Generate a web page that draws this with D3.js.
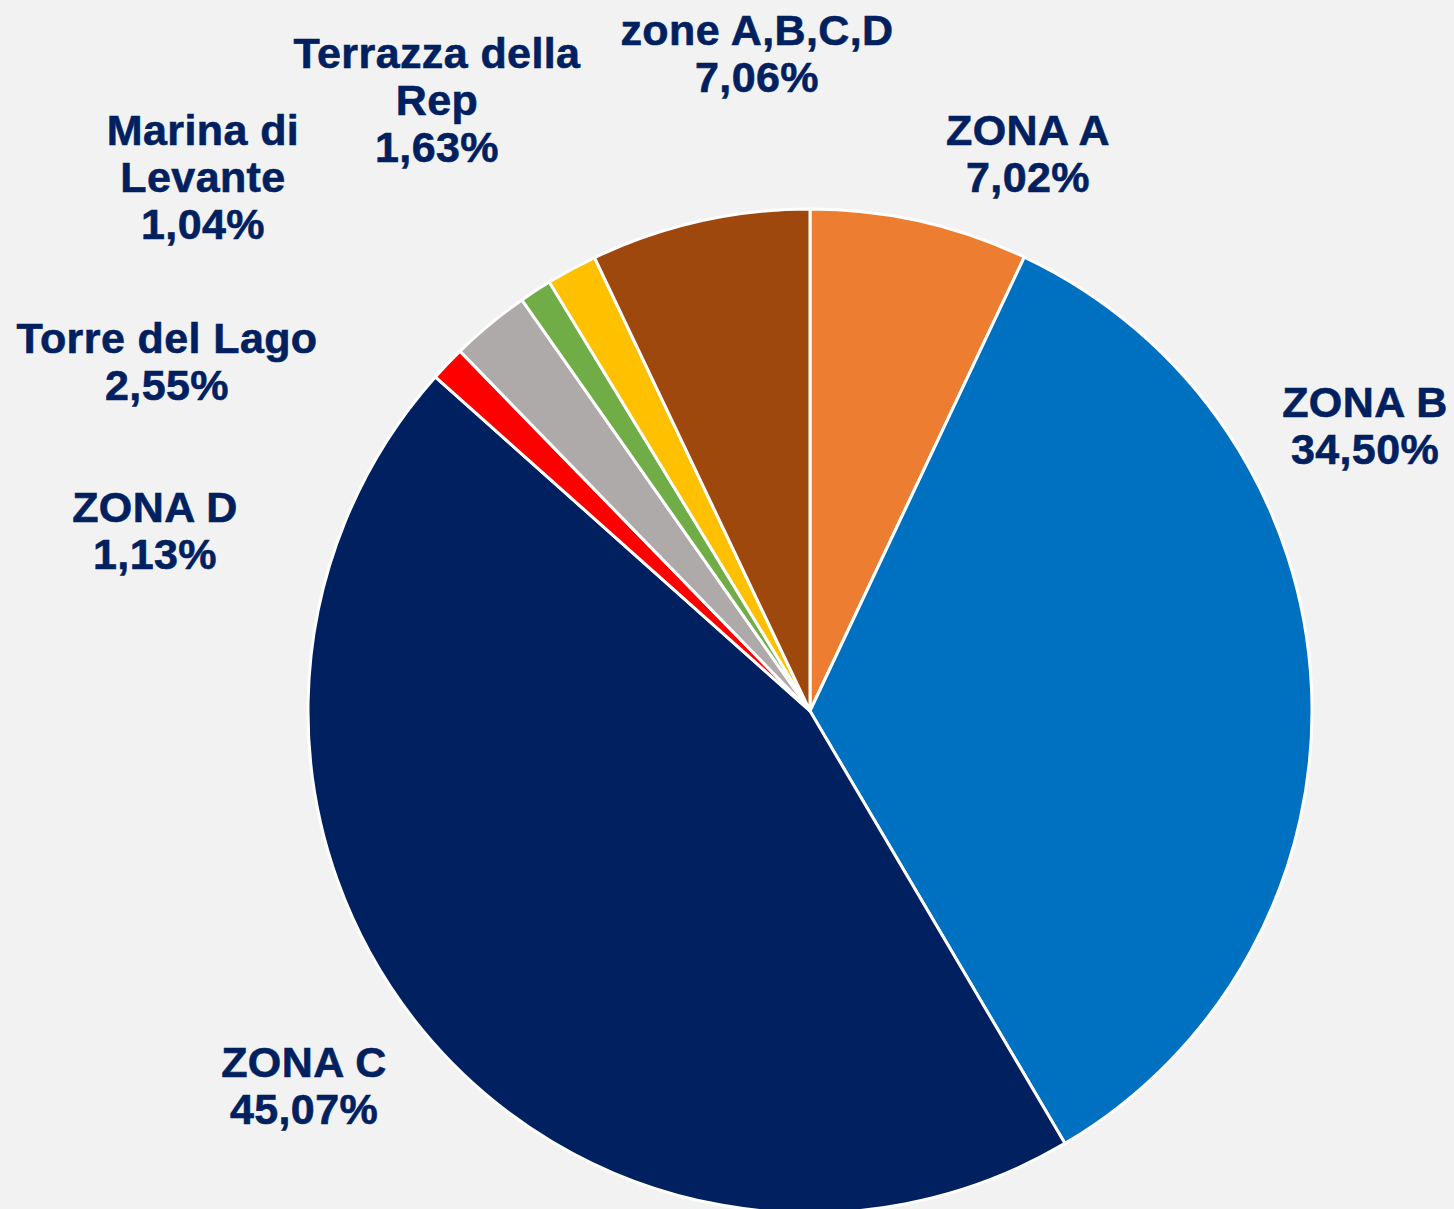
<!DOCTYPE html>
<html>
<head>
<meta charset="utf-8">
<script src="https://cdn.jsdelivr.net/npm/d3@7"></script>
<style>
  body { margin: 0; background: #f2f2f2; }
  svg { display: block; }
</style>
</head>
<body>
<svg id="chart"></svg>
<script>
const categories = ["ZONA A", "ZONA B", "ZONA C", "ZONA D", "Torre del Lago", "Marina di Levante", "Terrazza della Rep", "zone A,B,C,D"];
const values = [7.02, 34.50, 45.07, 1.13, 2.55, 1.04, 1.63, 7.06];
const colors = ["#ED7D31", "#0070C0", "#002060", "#FF0000", "#AEAAAA", "#70AD47", "#FFC000", "#9E480E"];
// label text lines (Excel wraps some names)
const labelLines = [
  ["ZONA A"], ["ZONA B"], ["ZONA C"], ["ZONA D"], ["Torre del Lago"],
  ["Marina di", "Levante"], ["Terrazza della", "Rep"], ["zone A,B,C,D"]
];
// label anchor: center x, baseline of first line
const labelPos = [
  [1028, 145], [1365, 417], [304, 1077], [155, 522], [167, 353],
  [203, 145], [437, 68], [757, 45]
];

const width = 1454, height = 1209;
const cx = 810, cy = 711, radius = 502;
const lineH = 47;

const data = categories.map((name, i) => ({ name, value: values[i] }));

const svg = d3.select("#chart")
  .attr("width", width)
  .attr("height", height);

svg.append("rect")
  .attr("width", width)
  .attr("height", height)
  .attr("fill", "#f2f2f2");

const color = d3.scaleOrdinal().domain(categories).range(colors);

const pie = d3.pie()
  .sort(null)
  .value(d => d.value);

const arc = d3.arc()
  .innerRadius(0)
  .outerRadius(radius);

const g = svg.append("g").attr("transform", `translate(${cx},${cy})`);

g.selectAll("path")
  .data(pie(data))
  .join("path")
  .attr("d", arc)
  .attr("fill", d => color(d.data.name))
  .attr("stroke", "#ffffff")
  .attr("stroke-width", 3)
  .attr("stroke-linejoin", "round");

const fmt = v => v.toFixed(2).replace(".", ",") + "%";

const labels = svg.append("g")
  .attr("font-family", "Liberation Sans, Arial, sans-serif")
  .attr("font-weight", "bold")
  .attr("font-size", 43)
  .attr("letter-spacing", 0.4)
  .attr("fill", "#002060")
  .attr("stroke", "#002060")
  .attr("stroke-width", 0.6)
  .attr("text-anchor", "middle")
  .selectAll("text")
  .data(data)
  .join("text")
  .attr("x", (d, i) => labelPos[i][0])
  .attr("y", (d, i) => labelPos[i][1]);

labels.each(function(d, i) {
  const t = d3.select(this);
  const lines = labelLines[i].concat([fmt(d.value)]);
  lines.forEach((ln, k) => {
    t.append("tspan")
      .attr("x", labelPos[i][0])
      .attr("y", labelPos[i][1] + k * lineH)
      .text(ln);
  });
});
</script>
</body>
</html>
